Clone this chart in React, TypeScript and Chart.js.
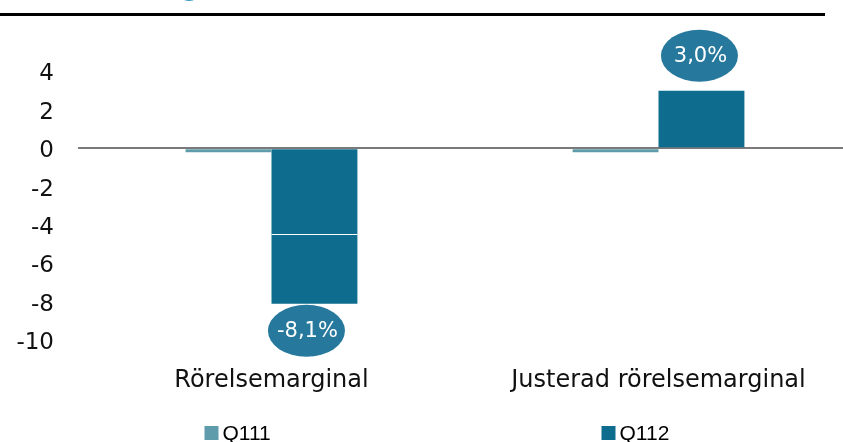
import React, { useEffect, useRef } from "react";
import { Chart, registerables } from "chart.js";

Chart.register(...registerables);

const categories = ["Rörelsemarginal", "Justerad rörelsemarginal"];
const seriesNames = ["Q111", "Q112"];
const q111Values = [-0.2, -0.2];
const q112Values = [-8.1, 3.0];
const bubbleLabels = ["-8,1%", "3,0%"];
const splitLineValue = -4.45;
const yTickMin = -10;
const yTickMax = 6;

const COLOR_Q111 = "#5f9cab";
const COLOR_Q112 = "#0e6d8f";
const COLOR_BUBBLE = "#27789d";
const FONT = "'DejaVu Sans', Verdana, sans-serif";

const decorPlugin = {
  id: "decor",
  beforeDraw(chart: any) {
    const ctx = chart.ctx;
    ctx.save();
    ctx.fillStyle = "#3a9fc0";
    ctx.font = `bold 24px ${FONT}`;
    ctx.textBaseline = "alphabetic";
    ctx.fillText("g", 182, -4);
    ctx.fillStyle = "#000";
    ctx.fillRect(0, 13, 825, 3);
    ctx.restore();
  },
  afterDatasetsDraw(chart: any) {
    const ctx = chart.ctx;
    const meta = chart.getDatasetMeta(1);
    const ys = chart.scales.y;
    ctx.save();
    const b0: any = meta.data[0];
    if (b0) {
      const yy = Math.round(ys.getPixelForValue(splitLineValue)) + 0.5;
      ctx.strokeStyle = "#fff";
      ctx.lineWidth = 1;
      ctx.beginPath();
      ctx.moveTo(b0.x - b0.width / 2, yy);
      ctx.lineTo(b0.x + b0.width / 2, yy);
      ctx.stroke();
    }
    meta.data.forEach((bar: any, i: number) => {
      const v = q112Values[i];
      const cx = bar.x + (v < 0 ? -8 : -2);
      const cy = v < 0 ? bar.y + 27 : bar.y - 35;
      ctx.beginPath();
      ctx.ellipse(cx, cy, 38.5, 26, 0, 0, Math.PI * 2);
      ctx.fillStyle = COLOR_BUBBLE;
      ctx.fill();
      ctx.fillStyle = "#fff";
      ctx.font = `21px ${FONT}`;
      ctx.textAlign = "center";
      ctx.textBaseline = "middle";
      ctx.fillText(bubbleLabels[i], cx + 1, cy + 1);
    });
    ctx.restore();
  },
  afterDraw(chart: any) {
    const ctx = chart.ctx;
    const xs = chart.scales.x;
    const colors = [COLOR_Q111, COLOR_Q112];
    const offsets = [-67, -57];
    ctx.save();
    seriesNames.forEach((name, i) => {
      const bx = xs.getPixelForValue(i) + offsets[i];
      ctx.fillStyle = colors[i];
      ctx.fillRect(bx, 426, 14, 14);
      ctx.fillStyle = "#000";
      ctx.font = `21px 'Liberation Sans', Arial, sans-serif`;
      ctx.textAlign = "left";
      ctx.textBaseline = "alphabetic";
      ctx.fillText(name, bx + 18, 440);
    });
    ctx.restore();
  },
};

export default function App() {
  const ref = useRef<HTMLCanvasElement | null>(null);
  useEffect(() => {
    document.body.style.margin = "0";
    const canvas = ref.current;
    if (!canvas) return;
    const chart = new Chart(canvas, {
      type: "bar",
      data: {
        labels: categories,
        datasets: [
          {
            label: seriesNames[0],
            data: q111Values,
            backgroundColor: COLOR_Q111,
            barPercentage: 1,
            categoryPercentage: 0.444,
          },
          {
            label: seriesNames[1],
            data: q112Values,
            backgroundColor: COLOR_Q112,
            barPercentage: 1,
            categoryPercentage: 0.444,
          },
        ],
      },
      options: {
        responsive: false,
        animation: false,
        layout: { padding: { top: 33.1, left: 0, right: 0, bottom: 0 } },
        plugins: {
          legend: { display: false },
          tooltip: { enabled: false },
        },
        scales: {
          x: {
            grid: { display: false, drawTicks: false },
            border: { display: false },
            ticks: {
              color: "#111",
              font: { family: FONT, size: 24 },
              padding: 26,
              maxRotation: 0,
              autoSkip: false,
            },
            afterFit(scale: any) {
              scale.height = 101.7;
            },
          },
          y: {
            min: yTickMin,
            max: yTickMax,
            grid: {
              drawTicks: false,
              color: (c: any) => (c.tick && c.tick.value === 0 ? "#7a7a7a" : "rgba(0,0,0,0)"),
              lineWidth: 2,
            },
            border: { display: false },
            ticks: {
              stepSize: 2,
              color: "#111",
              font: { family: FONT, size: 23, lineHeight: 0.79 },
              padding: 24,
              labelOffset: 3,
              callback: (v: any) => (v === yTickMax ? "" : String(v)),
            },
            afterFit(scale: any) {
              scale.width = 78;
            },
          },
        },
      },
      plugins: [decorPlugin],
    });
    return () => chart.destroy();
  }, []);
  return (
    <div style={{ width: 843, height: 442, overflow: "hidden", position: "relative" }}>
      <canvas ref={ref} width={852} height={442} style={{ display: "block" }} />
    </div>
  );
}
